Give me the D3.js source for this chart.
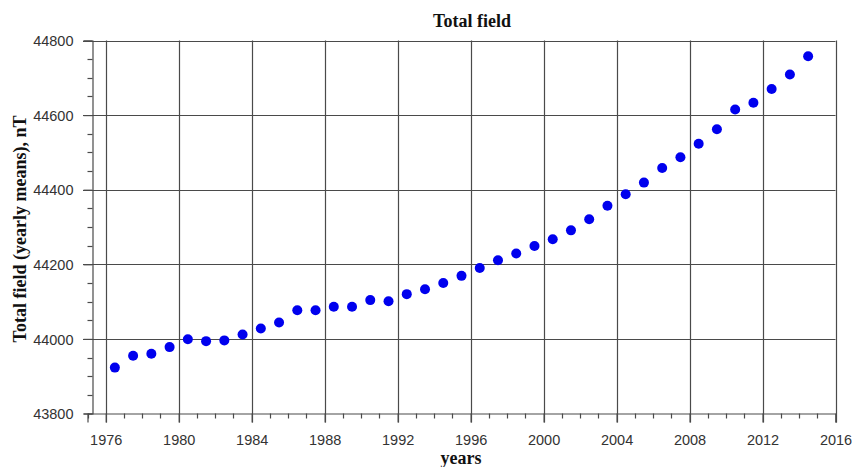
<!DOCTYPE html>
<html>
<head>
<meta charset="utf-8">
<script src="https://cdn.jsdelivr.net/npm/d3@7"></script>
<style>
  html, body { margin: 0; padding: 0; background: #fff; }
  svg { display: block; }
</style>
</head>
<body>
<div id="chart"></div>
<script>
// Yearly means of the total geomagnetic field (nT), plotted at mid-year
const years = [1976.5, 1977.5, 1978.5, 1979.5, 1980.5, 1981.5, 1982.5, 1983.5, 1984.5, 1985.5,
               1986.5, 1987.5, 1988.5, 1989.5, 1990.5, 1991.5, 1992.5, 1993.5, 1994.5, 1995.5,
               1996.5, 1997.5, 1998.5, 1999.5, 2000.5, 2001.5, 2002.5, 2003.5, 2004.5, 2005.5,
               2006.5, 2007.5, 2008.5, 2009.5, 2010.5, 2011.5, 2012.5, 2013.5, 2014.5];
const totalField = [43923, 43955, 43960, 43978, 43999, 43994, 43996, 44012, 44028, 44044,
                    44077, 44077, 44086, 44086, 44104, 44101, 44120, 44133, 44150, 44169,
                    44190, 44211, 44229, 44249, 44267, 44291, 44321, 44357, 44388, 44419,
                    44458, 44487, 44523, 44562, 44615, 44633, 44670, 44709, 44758];
const xTicks = [1976, 1980, 1984, 1988, 1992, 1996, 2000, 2004, 2008, 2012, 2016];
const yTicks = [43800, 44000, 44200, 44400, 44600, 44800];

(function () {
  const W = 852, H = 467;
  const plotL = 87.5, plotR = 835.5, plotT = 40.5, plotB = 413.5;
  const yAxisX = 92.5;

  const svg = d3.select("#chart").append("svg").attr("width", W).attr("height", H);

  const x = d3.scaleLinear().domain([1975, 2016]).range([plotL, plotR]);
  const y = d3.scaleLinear().domain([43800, 44800]).range([plotB, plotT]);

  const gridColor = "#4a4a4a";
  const labelColor = "#333";
  const px = v => Math.round(v) + 0.5;

  // Horizontal grid lines
  svg.append("g").selectAll("line").data(yTicks.filter(v => v > 43800)).join("line")
    .attr("x1", 83).attr("x2", plotR)
    .attr("y1", d => px(y(d))).attr("y2", d => px(y(d)))
    .attr("stroke", gridColor).attr("stroke-width", 1.2);

  // Vertical grid lines
  svg.append("g").selectAll("line").data(xTicks).join("line")
    .attr("x1", d => px(x(d))).attr("x2", d => px(x(d)))
    .attr("y1", plotT).attr("y2", plotB + 9)
    .attr("stroke", gridColor).attr("stroke-width", 1.2);

  // X axis (bottom) with yearly minor ticks
  const xAxis = d3.axisBottom(x).tickValues(xTicks).tickFormat(d3.format("d"))
    .tickSize(9).tickPadding(12);
  const gx = svg.append("g").attr("transform", `translate(0,${plotB})`).call(xAxis);
  gx.select(".domain").attr("stroke", gridColor).attr("stroke-width", 1.2);
  gx.selectAll(".tick line").attr("stroke", gridColor).attr("stroke-width", 1.2);
  gx.selectAll("text").attr("font-family", "Liberation Sans, Arial, sans-serif")
    .attr("font-size", 14.5).attr("fill", labelColor);
  const minorYears = d3.range(1975, 2016).filter(v => (v - 1976) % 4 !== 0);
  svg.append("g").selectAll("line").data(minorYears).join("line")
    .attr("x1", d => px(x(d))).attr("x2", d => px(x(d)))
    .attr("y1", plotB).attr("y2", plotB + 5)
    .attr("stroke", gridColor).attr("stroke-width", 1.2);

  // Y axis with minor ticks every 50 nT
  const yAxis = d3.axisLeft(y).tickValues(yTicks).tickFormat(d3.format("d"))
    .tickSize(9).tickPadding(10);
  const gy = svg.append("g").attr("transform", `translate(${yAxisX},0)`).call(yAxis);
  gy.select(".domain").attr("stroke", gridColor).attr("stroke-width", 1.2);
  gy.selectAll(".tick line").attr("stroke", gridColor).attr("stroke-width", 1.2);
  gy.selectAll("text").attr("font-family", "Liberation Sans, Arial, sans-serif")
    .attr("font-size", 14.5).attr("fill", labelColor).attr("dy", "0.36em");
  const minorField = d3.range(43850, 44800, 50).filter(v => v % 200 !== 0);
  svg.append("g").selectAll("line").data(minorField).join("line")
    .attr("x1", yAxisX - 5).attr("x2", yAxisX)
    .attr("y1", d => px(y(d))).attr("y2", d => px(y(d)))
    .attr("stroke", gridColor).attr("stroke-width", 1.2);

  // Data points
  svg.append("g").selectAll("circle").data(years).join("circle")
    .attr("cx", d => x(d))
    .attr("cy", (d, i) => y(totalField[i]))
    .attr("r", 5)
    .attr("fill", "#0000ee");

  // Titles
  const serif = "Liberation Serif, Times New Roman, serif";
  svg.append("text").attr("x", 472).attr("y", 27)
    .attr("text-anchor", "middle").attr("font-family", serif)
    .attr("font-weight", "bold").attr("font-size", 18).attr("fill", "#111")
    .text("Total field");
  svg.append("text").attr("x", 461).attr("y", 464)
    .attr("text-anchor", "middle").attr("font-family", serif)
    .attr("font-weight", "bold").attr("font-size", 18).attr("fill", "#111")
    .text("years");
  svg.append("text")
    .attr("transform", "translate(26,229) rotate(-90)")
    .attr("text-anchor", "middle").attr("font-family", serif)
    .attr("font-weight", "bold").attr("font-size", 18).attr("fill", "#111")
    .text("Total field (yearly means), nT");
})();
</script>
</body>
</html>
